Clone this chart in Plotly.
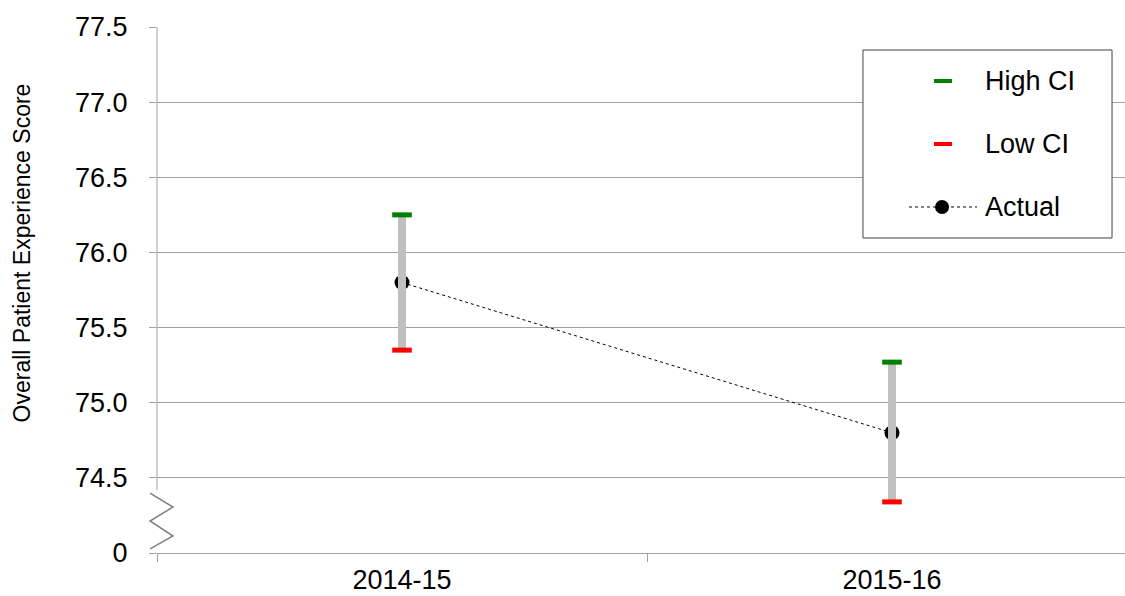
import plotly.graph_objects as go

# ---- data ----
periods = ["2014-15", "2015-16"]
actual = [75.8, 74.8]
high_ci = [76.25, 75.27]
low_ci = [75.35, 74.34]

y_tick_vals = [74.0, 74.5, 75.0, 75.5, 76.0, 76.5, 77.0, 77.5]
y_tick_text = ["0", "74.5", "75.0", "75.5", "76.0", "76.5", "77.0", "77.5"]

FONT = "Liberation Sans, Arial, sans-serif"
GRID = "#A0A0A0"

fig = go.Figure()

# Actual (drawn first so the grey CI bar sits on top of the marker)
fig.add_trace(go.Scatter(
    x=periods, y=actual, mode="lines+markers", name="Actual",
    line=dict(color="black", width=1, dash="dot"),
    marker=dict(color="black", size=15, symbol="circle"),
    showlegend=False,
))

# grey CI range bars (low -> high)
bx, by = [], []
for p, lo, hi in zip(periods, low_ci, high_ci):
    bx += [p, p, None]
    by += [lo, hi, None]
fig.add_trace(go.Scatter(
    x=bx, y=by, mode="lines", line=dict(color="#C0C0C0", width=8),
    hoverinfo="skip", showlegend=False,
))

# High / Low CI caps
fig.add_trace(go.Scatter(
    x=periods, y=high_ci, mode="markers", name="High CI",
    marker=dict(symbol="line-ew", size=14, line=dict(color="#008000", width=5)),
    showlegend=False,
))
fig.add_trace(go.Scatter(
    x=periods, y=low_ci, mode="markers", name="Low CI",
    marker=dict(symbol="line-ew", size=14, line=dict(color="#FF0000", width=5)),
    showlegend=False,
))

shapes = []
# y axis line (broken) and zigzag
shapes.append(dict(type="line", xref="paper", yref="y", x0=0, x1=0, y0=74.42, y1=77.5,
                   line=dict(color=GRID, width=1)))
zx = [-0.00723, 0.01653, -0.00723, 0.01653, -0.00723]
zy = [74.399, 74.306, 74.213, 74.113, 74.027]
path = "M" + " L".join(f"{a},{b}" for a, b in zip(zx, zy))
shapes.append(dict(type="path", xref="paper", yref="y", path=path,
                   line=dict(color="#808080", width=1.5)))

# manual legend box
shapes.append(dict(type="rect", xref="paper", yref="paper", x0=0.7293, x1=0.9866,
                   y0=0.5989, y1=0.9563, fillcolor="white",
                   line=dict(color="#404040", width=1), layer="above"))
leg_y = [0.8973, 0.7776, 0.6578]
shapes.append(dict(type="line", xref="paper", yref="paper", x0=0.8027, x1=0.8213,
                   y0=leg_y[0], y1=leg_y[0], line=dict(color="#008000", width=4), layer="above"))
shapes.append(dict(type="line", xref="paper", yref="paper", x0=0.8027, x1=0.8213,
                   y0=leg_y[1], y1=leg_y[1], line=dict(color="#FF0000", width=4), layer="above"))
shapes.append(dict(type="line", xref="paper", yref="paper", x0=0.7769, x1=0.8471,
                   y0=leg_y[2], y1=leg_y[2], line=dict(color="black", width=1, dash="dot"),
                   layer="above"))
shapes.append(dict(type="circle", xref="paper", yref="paper", xsizemode="pixel",
                   ysizemode="pixel", xanchor=0.8110, yanchor=leg_y[2],
                   x0=-7, x1=7, y0=-7, y1=7, fillcolor="black",
                   line=dict(color="black", width=0), layer="above"))

annotations = []
for name, yy in zip(["High CI", "Low CI", "Actual"], leg_y):
    annotations.append(dict(text=name, xref="paper", yref="paper", x=0.8533, y=yy,
                            xanchor="left", yanchor="middle", showarrow=False,
                            font=dict(family=FONT, size=27, color="black")))
annotations.append(dict(text="Overall Patient Experience Score", xref="paper", yref="y",
                        x=-0.1395, y=76.0, textangle=-90, showarrow=False,
                        xanchor="center", yanchor="middle",
                        font=dict(family=FONT, size=23, color="black")))

fig.update_layout(
    width=1125, height=596,
    margin=dict(l=157, r=0, t=27, b=43),
    paper_bgcolor="white", plot_bgcolor="white",
    showlegend=False,
    shapes=shapes, annotations=annotations,
    font=dict(family=FONT, color="black"),
    xaxis=dict(
        type="category", range=[-0.5, 1.4755], automargin=False,
        showgrid=False, zeroline=False,
        showline=True, linecolor=GRID, linewidth=1,
        ticks="outside", tickson="boundaries", ticklen=8, tickcolor=GRID,
        ticklabelstandoff=3,
        tickfont=dict(family=FONT, size=27, color="black"),
    ),
    yaxis=dict(
        range=[74.0, 77.5], tickvals=y_tick_vals, ticktext=y_tick_text,
        automargin=False,
        showgrid=True, gridcolor=GRID, gridwidth=1, zeroline=False,
        showline=False, ticks="outside", ticklen=7, tickcolor=GRID,
        ticklabelstandoff=16,
        tickfont=dict(family=FONT, size=27, color="black"),
    ),
)

fig.write_html(
    "out.html",
    config={"displayModeBar": False},
    post_script="document.body.style.margin='0';document.body.style.overflow='hidden';",
)
